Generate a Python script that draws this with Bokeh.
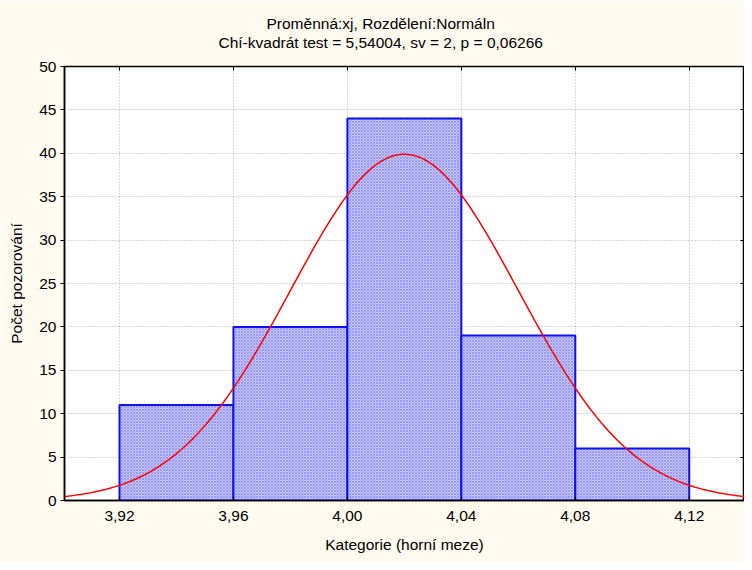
import numpy as np
from bokeh.plotting import figure
from bokeh.models import (Range1d, LinearAxis, FixedTicker, CustomJSTickFormatter,
                          Title, ColumnDataSource)
from bokeh.embed import file_html
from bokeh.resources import INLINE

# ---- data ----
bin_edges = [3.92, 3.96, 4.00, 4.04, 4.08, 4.12]
counts = [11, 20, 44, 19, 6]
tick_values = [3.92, 3.96, 4.00, 4.04, 4.08, 4.12]
y_ticks = [0, 5, 10, 15, 20, 25, 30, 35, 40, 45, 50]
fit_mean = 4.02
fit_sd = 0.04
n_obs = sum(counts)
bin_width = 0.04
title1 = "Proměnná:xj, Rozdělení:Normáln"
title2 = "Chí-kvadrát test = 5,54004, sv = 2, p = 0,06266"
xlabel = "Kategorie (horní meze)"
ylabel = "Počet pozorování"

FONT = "Liberation Sans"
FS = "15.5px"

x0, x1 = 3.9007, 4.1394
p = figure(width=744, height=562, output_backend="svg", toolbar_location=None,
           x_range=Range1d(x0, x1), y_range=Range1d(0, 50), title=None,
           min_border_left=64, min_border_top=66, min_border_bottom=62,
           min_border_right=0)
p.border_fill_color = "#FFFAF0"
p.background_fill_color = "white"
p.outline_line_color = "black"
p.outline_line_width = 1.5

# bars
src = ColumnDataSource(dict(left=bin_edges[:-1], right=bin_edges[1:],
                            top=counts, bottom=[0] * len(counts)))
p.quad(left="left", right="right", top="top", bottom="bottom", source=src,
       fill_color="#c8c8f8", line_color="#1010F0", line_width=2,
       hatch_pattern="x", hatch_color="#4040f0", hatch_scale=3,
       hatch_weight=0.6, hatch_alpha=0.6)

# fitted normal curve
xs = np.linspace(x0, x1, 300)
ys = n_obs * bin_width * np.exp(-0.5 * ((xs - fit_mean) / fit_sd) ** 2) / (fit_sd * np.sqrt(2 * np.pi))
p.line(xs, ys, line_color="#FF0000", line_width=1.5)

# axes
xa = p.xaxis[0]
xa.ticker = FixedTicker(ticks=tick_values)
xa.formatter = CustomJSTickFormatter(code="return tick.toFixed(2).replace('.', ',');")
xa.major_tick_out = 0
xa.major_tick_in = 4
xa.minor_tick_line_color = None
xa.major_label_standoff = 10
xa.axis_label = xlabel
xa.axis_label_standoff = 12

ya = p.yaxis[0]
ya.ticker = FixedTicker(ticks=y_ticks)
ya.major_tick_out = 4
ya.major_tick_in = 0
ya.minor_tick_line_color = None
ya.major_label_standoff = 4
ya.axis_label = ylabel
ya.axis_label_standoff = 11

for ax in (xa, ya):
    ax.axis_line_color = "black"
    ax.axis_line_width = 1.5
    ax.major_tick_line_color = "black"
    ax.major_label_text_font = FONT
    ax.major_label_text_font_size = FS
    ax.major_label_text_color = "black"
    ax.axis_label_text_font = FONT
    ax.axis_label_text_font_size = FS
    ax.axis_label_text_font_style = "normal"
    ax.axis_label_text_color = "black"

blank = CustomJSTickFormatter(code="return '';")
top_ax = LinearAxis(ticker=FixedTicker(ticks=tick_values), formatter=blank,
                    major_tick_in=4, major_tick_out=0, major_label_standoff=0,
                    minor_tick_line_color=None, axis_line_color=None,
                    major_tick_line_color="black", major_label_text_font_size="0px")
p.add_layout(top_ax, "above")
# invisible spacer between the frame and the titles
spacer = LinearAxis(ticker=FixedTicker(ticks=tick_values), formatter=blank,
                    major_tick_in=0, major_tick_out=16, major_label_standoff=0,
                    minor_tick_line_color=None, axis_line_color=None,
                    major_tick_line_color=None, major_label_text_font_size="0px")
p.add_layout(spacer, "above")
right_ax = LinearAxis(ticker=FixedTicker(ticks=y_ticks), formatter=blank,
                      major_tick_in=4, major_tick_out=0, major_label_standoff=0,
                      minor_tick_line_color=None, axis_line_color=None,
                      major_tick_line_color="black", major_label_text_font_size="0px")
p.add_layout(right_ax, "right")

# grid
p.xgrid.ticker = FixedTicker(ticks=tick_values)
p.ygrid.ticker = FixedTicker(ticks=y_ticks)
for g in (p.xgrid[0], p.ygrid[0]):
    g.grid_line_color = "#b0b0b0"
    g.grid_line_dash = "1 2"
    g.grid_line_width = 1

# titles (line 2 nearest the frame, line 1 above it)
t2 = Title(text=title2, align="left", offset=154, text_font=FONT,
           text_font_size=FS, text_font_style="normal", text_color="black",
           standoff=0)
t1 = Title(text=title1, align="left", offset=202, text_font=FONT,
           text_font_size=FS, text_font_style="normal", text_color="black",
           standoff=0)
p.add_layout(t2, "above")
p.add_layout(t1, "above")

open("out.html", "w").write(file_html(p, INLINE))
